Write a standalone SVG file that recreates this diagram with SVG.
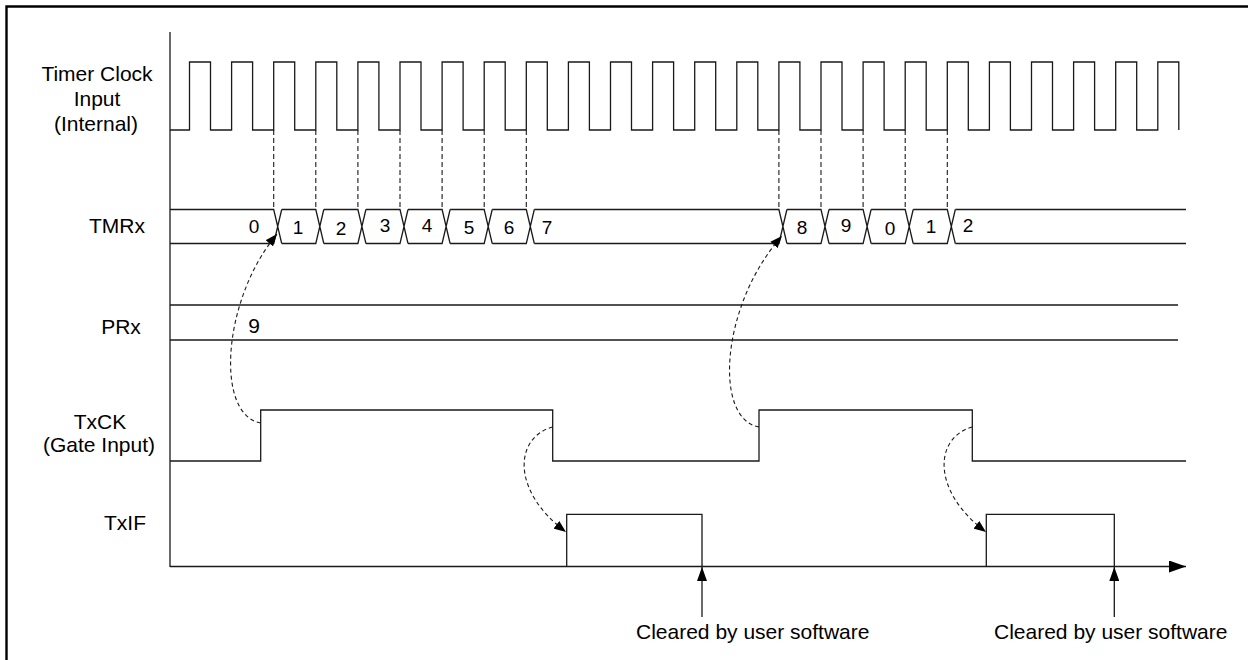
<svg xmlns="http://www.w3.org/2000/svg" width="1248" height="660" viewBox="0 0 1248 660">
  <defs>
    <style>
      .ln { fill: none; stroke: #1a1a1a; stroke-width: 1.3; }
      .dash { fill: none; stroke: #1a1a1a; stroke-width: 1.1; stroke-dasharray: 5 3; }
      .curve { fill: none; stroke: #1a1a1a; stroke-width: 1.1; stroke-dasharray: 4 3; }
      .lbl { font-family: "Liberation Sans", Arial, sans-serif; font-size: 21px; fill: #000; text-anchor: middle; }
      .num { font-family: "Liberation Sans", Arial, sans-serif; font-size: 19px; fill: #000; text-anchor: middle; }
    </style>
    <marker id="ahSmall" viewBox="0 0 10 8" refX="10" refY="4" markerWidth="12" markerHeight="10" markerUnits="userSpaceOnUse" orient="auto">
      <path d="M0,0 L10,4 L0,8 z" fill="#000"/>
    </marker>
    <marker id="ahUp" viewBox="0 0 14 10" refX="14" refY="5" markerWidth="14" markerHeight="10" markerUnits="userSpaceOnUse" orient="auto">
      <path d="M0,0 L14,5 L0,10 z" fill="#000"/>
    </marker>
    <marker id="ahAxis" viewBox="0 0 17 12" refX="17" refY="6" markerWidth="17" markerHeight="12" markerUnits="userSpaceOnUse" orient="auto">
      <path d="M0,0 L17,6 L0,12 z" fill="#000"/>
    </marker>
  </defs>

  <rect x="0" y="0" width="1248" height="660" fill="#fff"/>

  <!-- frame -->
  <path d="M6.5,660 V6.5 H1248" fill="none" stroke="#000" stroke-width="2.4"/>

  <!-- axes -->
  <g id="axis">
    <path class="ln" d="M170,32 V567"/>
    <path class="ln" d="M170,566.5 H1186" marker-end="url(#ahAxis)"/>
  </g>

  <!-- signal labels -->
  <g id="labels">
    <text class="lbl" x="97" y="81">Timer Clock</text>
    <text class="lbl" x="97" y="106">Input</text>
    <text class="lbl" x="96" y="131">(Internal)</text>
    <text class="lbl" x="117" y="233">TMRx</text>
    <text class="lbl" x="121" y="334">PRx</text>
    <text class="lbl" x="100" y="429">TxCK</text>
    <text class="lbl" x="99" y="452">(Gate Input)</text>
    <text class="lbl" x="125" y="530">TxIF</text>
  </g>

  <!-- Timer clock -->
  <g id="clock">
    <path class="ln" d="M170,130 H189.5 V62 H210.5 V130 H231.6 V62 H252.6 V130 H273.7 V62 H294.7 V130 H315.8 V62 H336.8 V130 H357.9 V62 H378.9 V130 H400 V62 H421 V130 H442.1 V62 H463.1 V130 H484.2 V62 H505.2 V130 H526.3 V62 H547.3 V130 H568.4 V62 H589.4 V130 H610.5 V62 H631.5 V130 H652.6 V62 H673.6 V130 H694.7 V62 H715.7 V130 H736.8 V62 H757.8 V130 H778.9 V62 H799.9 V130 H821 V62 H842 V130 H863.1 V62 H884.1 V130 H905.2 V62 H926.2 V130 H947.3 V62 H968.3 V130 H989.4 V62 H1010.4 V130 H1031.5 V62 H1052.5 V130 H1073.6 V62 H1094.6 V130 H1115.7 V62 H1136.7 V130 H1157.8 V62 H1178.8 V130"/>
  </g>

  <!-- TMRx bus -->
  <g id="tmrx">
    <path class="ln" d="M170,209.5 H273.7 L281.7,243.5 M170,243.5 H273.7 L281.7,209.5"/>
    <path class="ln" d="M281.7,209.5 H315.8 L323.8,243.5 M281.7,243.5 H315.8 L323.8,209.5"/>
    <path class="ln" d="M323.8,209.5 H357.9 L365.9,243.5 M323.8,243.5 H357.9 L365.9,209.5"/>
    <path class="ln" d="M365.9,209.5 H400 L408,243.5 M365.9,243.5 H400 L408,209.5"/>
    <path class="ln" d="M408,209.5 H442.1 L450.1,243.5 M408,243.5 H442.1 L450.1,209.5"/>
    <path class="ln" d="M450.1,209.5 H484.2 L492.2,243.5 M450.1,243.5 H484.2 L492.2,209.5"/>
    <path class="ln" d="M492.2,209.5 H526.3 L534.3,243.5 M492.2,243.5 H526.3 L534.3,209.5"/>
    <path class="ln" d="M534.3,209.5 H778.9 L786.9,243.5 M534.3,243.5 H778.9 L786.9,209.5"/>
    <path class="ln" d="M786.9,209.5 H821 L829,243.5 M786.9,243.5 H821 L829,209.5"/>
    <path class="ln" d="M829,209.5 H863.1 L871.1,243.5 M829,243.5 H863.1 L871.1,209.5"/>
    <path class="ln" d="M871.1,209.5 H905.2 L913.2,243.5 M871.1,243.5 H905.2 L913.2,209.5"/>
    <path class="ln" d="M913.2,209.5 H947.3 L955.3,243.5 M913.2,243.5 H947.3 L955.3,209.5"/>
    <path class="ln" d="M955.3,209.5 H1186 M955.3,243.5 H1186"/>
    <text class="num" x="254" y="233">0</text>
    <text class="num" x="298" y="234">1</text>
    <text class="num" x="341" y="235">2</text>
    <text class="num" x="385" y="232">3</text>
    <text class="num" x="427" y="232">4</text>
    <text class="num" x="469" y="234">5</text>
    <text class="num" x="509" y="234">6</text>
    <text class="num" x="547" y="234">7</text>
    <text class="num" x="802" y="234">8</text>
    <text class="num" x="846" y="232">9</text>
    <text class="num" x="890" y="235">0</text>
    <text class="num" x="931" y="233">1</text>
    <text class="num" x="968" y="232">2</text>
  </g>

  <!-- PRx bus -->
  <g id="prx">
    <path class="ln" d="M170,305 H1178 M170,340 H1178"/>
    <text class="lbl" x="254" y="333">9</text>
  </g>

  <!-- TxCK -->
  <g id="txck">
    <path class="ln" d="M170,461 H260.7 V410 H552.7 V461 H759 V410 H972.3 V461 H1186"/>
  </g>

  <!-- TxIF -->
  <g id="txif">
    <path class="ln" d="M566.7,566.5 V514.3 H702 V566.5 M986.3,566.5 V514.3 H1114.3 V566.5"/>
  </g>

  <!-- connectors -->
  <g id="connectors">
    <path class="dash" d="M273.7,130 V209 M315.8,130 V209 M357.9,130 V209 M400,130 V209 M442.1,130 V209 M484.2,130 V209 M526.3,130 V209 M778.9,130 V209 M821,130 V209 M863.1,130 V209 M905.2,130 V209 M947.3,130 V209"/>
    <path class="curve" d="M260.7,423 C215,415 222,300 277,234" marker-end="url(#ahSmall)"/>
    <path class="curve" d="M759,427 C713,419 721,304 782,236" marker-end="url(#ahSmall)"/>
    <path class="curve" d="M552.7,427 C515,437 510,490 566,532" marker-end="url(#ahSmall)"/>
    <path class="curve" d="M972.3,427 C935,437 930,490 986,532" marker-end="url(#ahSmall)"/>
    <path class="ln" d="M702,617 V567" marker-end="url(#ahUp)"/>
    <path class="ln" d="M1114.3,617 V567" marker-end="url(#ahUp)"/>
  </g>

  <g id="notes">
    <text class="lbl" x="636" y="639" style="text-anchor:start">Cleared by user software</text>
    <text class="lbl" x="994" y="639" style="text-anchor:start">Cleared by user software</text>
  </g>
</svg>
